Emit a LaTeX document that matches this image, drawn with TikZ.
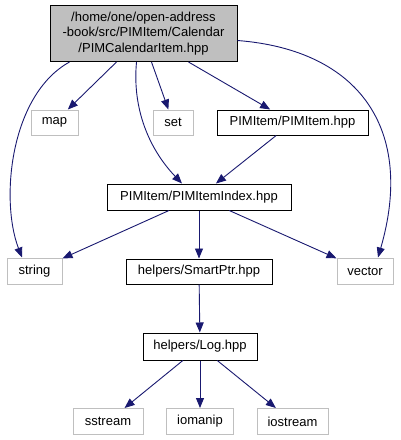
\documentclass[tikz,border=0pt]{standalone}
\usepackage{fontspec}
\setmainfont{Liberation Sans}
\usetikzlibrary{arrows.meta}
\definecolor{edgeBlue}{RGB}{25,25,112}
\definecolor{grayLine}{RGB}{191,191,191}
\definecolor{rootFill}{RGB}{191,191,191}

\begin{document}
\begin{tikzpicture}[x=1pt,y=-1pt,
      font=\fontsize{13}{15.5}\selectfont,
      hdr/.style={draw=black,line width=1pt,inner sep=0pt,minimum height=25pt},
      sys/.style={draw=grayLine,line width=1pt,inner sep=0pt,minimum height=26pt},
      inc/.style={-{Triangle[length=10pt,width=8pt]},line width=0.9pt,edgeBlue}
    ]
    \useasboundingbox (0,0) rectangle (401,440);
    \node[hdr,fill=rootFill,align=center,minimum width=187pt,minimum height=56pt] (root) at (143.5,33.5) {/home/one/open-address\\-book/src/PIMItem/Calendar\\/PIMCalendarItem.hpp};
    \node[sys,minimum width=47pt,minimum height=25pt] (map) at (54.5,122.5) {map};
    \node[sys,minimum width=40pt,minimum height=25pt] (set) at (173,122.5) {set};
    \node[hdr,minimum width=151pt] (pimitem) at (292.5,122.5) {PIMItem/PIMItem.hpp};
    \node[hdr,minimum width=184pt,minimum height=26pt] (index) at (199,197) {PIMItem/PIMItemIndex.hpp};
    \node[sys,minimum width=55pt] (string) at (34.5,271) {string};
    \node[hdr,minimum width=146pt] (smartptr) at (199,271.5) {helpers/SmartPtr.hpp};
    \node[sys,minimum width=56pt] (vector) at (365,271) {vector};
    \node[hdr,minimum width=114pt,minimum height=27pt] (log) at (200,346.5) {helpers/Log.hpp};
    \node[sys,minimum width=70pt] (sstream) at (108,421.5) {sstream};
    \node[sys,minimum width=67pt] (iomanip) at (200,421.5) {iomanip};
    \node[sys,minimum width=71pt] (iostream) at (292.5,421.5) {iostream};

    \draw[inc] ([xshift=20pt]root.south west) .. controls (10,95) and (0,200) .. ([xshift=-12.5pt]string.north);
    \draw[inc] ([xshift=-27pt]root.south) -- (map);
    \draw[inc] ([xshift=-7pt]root.south) .. controls (132,110) and (150,150) .. ([xshift=-17pt]index.north);
    \draw[inc] ([xshift=8pt]root.south) -- (set);
    \draw[inc] ([xshift=45pt]root.south) -- (pimitem);
    \draw[inc] ([yshift=-7pt]root.east) .. controls (360,50) and (415,130) .. ([xshift=13pt]vector.north);
    \draw[inc] (pimitem) -- (index);
    \draw[inc] (index) -- (string);
    \draw[inc] (index) -- (smartptr);
    \draw[inc] (index) -- (vector);
    \draw[inc] (smartptr) -- (log);
    \draw[inc] (log) -- (sstream);
    \draw[inc] (log) -- (iomanip);
    \draw[inc] (log) -- (iostream);
  \end{tikzpicture}
\end{document}
